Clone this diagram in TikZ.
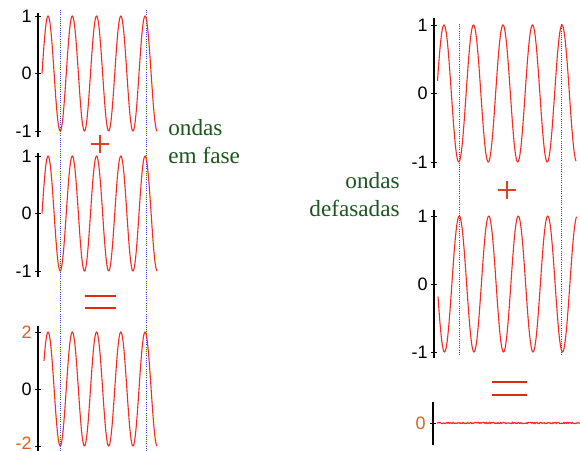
\documentclass[tikz,border=0pt]{standalone}
\usepackage{fontspec}
\setmainfont{Liberation Serif}
\newfontfamily\axisfont{Liberation Sans}
\usetikzlibrary{positioning}
\definecolor{wavered}{RGB}{250,40,30}
\definecolor{signred}{RGB}{228,62,38}
\definecolor{eqred}{RGB}{222,42,16}
\definecolor{tickorange}{RGB}{226,96,26}
\definecolor{labelgreen}{RGB}{28,86,30}
\definecolor{guideblue}{RGB}{45,70,205}

\begin{document}
\begin{tikzpicture}[x=0.5pt, y=-0.5pt,
  sinecurve/.style={draw=wavered, line width=0.55pt, smooth, samples=240},
  yaxis/.style={draw=black, line width=1.3pt},
  ticks/.style={draw=black, line width=0.5pt},
  ticklabel/.style={anchor=east, inner sep=0pt, font=\axisfont\fontsize{9}{10}\selectfont},
  guide/.style={draw=guideblue, line width=0.4pt, dash pattern=on 0.4pt off 0.7pt},
  wavelabel/.style={inner sep=0pt, text=labelgreen, font=\fontsize{11.6}{14}\selectfont},
  plussign/.style={draw=signred, line width=0.7pt},
  eqsign/.style={draw=eqred, line width=1.4pt}]
  \useasboundingbox (0,0) rectangle (580,451);
  \pgfmathsetseed{11}

  % left column: waves in phase
  \draw[guide] (60,10) -- (60,451);
  \draw[guide] (146,10) -- (146,451);

  \draw[yaxis] (38,13) -- (38,137);
  \foreach \y/\t [count=\i] in {16/1, 73.5/0, 131/-1} {
    \draw[ticks] (35,\y) -- (41,\y);
    \node (la\i) [ticklabel] at (32,\y) {\t};
  }
  \draw[sinecurve] plot[domain=42:157.1] (\x, {73.5-57.5*sin(14.845*(\x-42))});

  \draw[plussign] (91,144) -- (109,144);
  \draw[plussign] (100,135) -- (100,153);

  \draw[yaxis] (38,153) -- (38,277);
  \foreach \y/\t [count=\i] in {156/1, 213.5/0, 271/-1} {
    \draw[ticks] (35,\y) -- (41,\y);
    \node (lb\i) [ticklabel] at (32,\y) {\t};
  }
  \draw[sinecurve] plot[domain=42:157.1] (\x, {213.5-57.5*sin(14.845*(\x-42))});

  \draw[eqsign] (85,296) -- (116,296);
  \draw[eqsign] (85,308) -- (116,308);

  \draw[yaxis] (38,326) -- (38,451);
  \draw[ticks] (35,332) -- (41,332);
  \draw[ticks] (35,389) -- (41,389);
  \draw[ticks] (35,446) -- (41,446);
  \node (lc1) [ticklabel, text=tickorange] at (32,332) {2};
  \node (lc2) [ticklabel] at (32,389) {0};
  \node (lc3) [ticklabel, text=tickorange] at (32,443.5) {-2};
  \draw[sinecurve] plot[domain=44:157.1] (\x, {389-57*sin(14.845*(\x-42))});

  \node (emfase) [wavelabel, align=left, anchor=north west] at (168,119)
    {ondas\\em fase};

  % right column: waves out of phase
  \draw[guide] (459,24) -- (459,355);
  \draw[guide] (561,24) -- (561,355);

  \draw[yaxis] (434,18) -- (434,168);
  \foreach \y/\t [count=\i] in {25/1, 93.5/0, 162/-1} {
    \draw[ticks] (431,\y) -- (437,\y);
    \node (ra\i) [ticklabel] at (428,\y) {\t};
  }
  \draw[sinecurve] plot[domain=437.5:576] (\x, {93.5-68.5*sin(12.203*(\x-444)+90)});

  \draw[plussign] (498,190) -- (516,190);
  \draw[plussign] (507,181) -- (507,199);

  \draw[yaxis] (434,210) -- (434,358);
  \foreach \y/\t [count=\i] in {216/1, 284/0, 352/-1} {
    \draw[ticks] (431,\y) -- (437,\y);
    \node (rb\i) [ticklabel] at (428,\y) {\t};
  }
  \draw[sinecurve] plot[domain=438:576.5] (\x, {284+68*sin(12.203*(\x-444.5)+90)});

  \draw[eqsign] (492,382) -- (527,382);
  \draw[eqsign] (492,395) -- (527,395);

  \draw[yaxis] (433,402) -- (433,445);
  \draw[ticks] (430,423) -- (436,423);
  \node (rc1) [ticklabel, text=tickorange] at (426,423) {0};
  \draw[draw=wavered, line width=0.6pt] plot[domain=437:580, samples=170] (\x, {423+0.6*rand});

  \node (defasadas) [wavelabel, align=right, anchor=north east] at (400,172)
    {ondas\\defasadas};
\end{tikzpicture}
\end{document}
